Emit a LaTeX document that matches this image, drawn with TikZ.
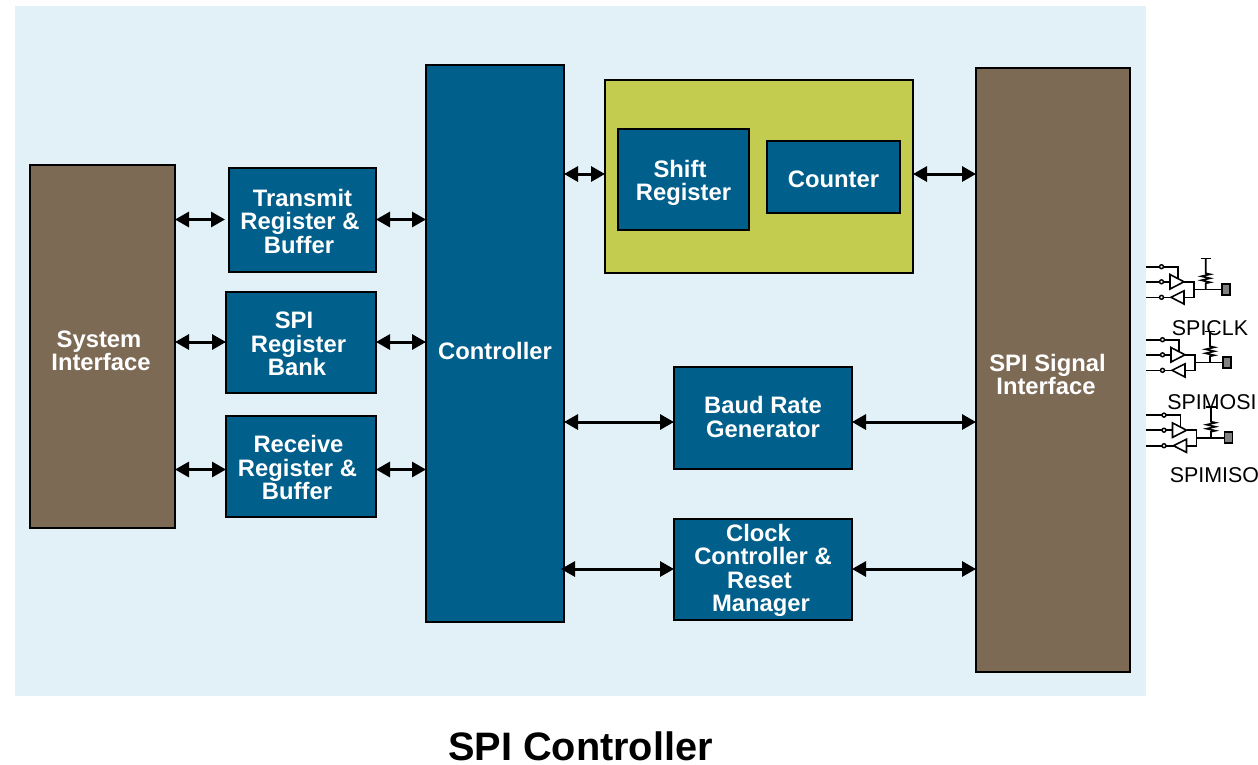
\documentclass[tikz,border=0pt]{standalone}
\usepackage{fontspec}
\setmainfont{Liberation Sans}
\usetikzlibrary{arrows.meta,positioning}
\definecolor{panelbg}{HTML}{E2F1F7}
\definecolor{blockblue}{HTML}{005F8B}
\definecolor{blockbrown}{HTML}{7D6A55}
\definecolor{blockolive}{HTML}{C4CC4F}
\newcommand{\dropby}[1]{\rule{0pt}{\dimexpr 17.5pt+2\dimexpr #1\relax\relax}}
\newcommand{\pushby}[1]{\hspace*{#1}\mbox{}}
\begin{document}
\begin{tikzpicture}[x=1pt,y=-1pt,
block/.style = {draw, line width=2pt, fill=blockblue, text=white, inner sep=0pt, outer sep=0pt, align=center, font=\fontsize{23.8}{23.5}\selectfont\bfseries},
sidebar/.style = {block, fill=blockbrown},
link/.style = {line width=3pt, {Triangle[length=14pt,width=15pt]}-{Triangle[length=14pt,width=15pt]}},
wire/.style = {line width=1.6pt},
tap/.style = {circle, draw, line width=1.4pt, fill=panelbg, inner sep=0pt, minimum size=4pt},
pinlabel/.style = {font=\fontsize{21.4}{24}\selectfont, inner sep=0pt},
]
\useasboundingbox (0,0) rectangle (1258,764);
\fill[panelbg] (15,6) rectangle (1146,696);
\node (sysif) at (102.5,346.5)[sidebar,minimum width=145pt,minimum height=363pt] {\dropby{4pt}System\pushby{7pt}\\Interface\pushby{3pt}};
\node (txbuf) at (302.5,220)[block,minimum width=147pt,minimum height=104pt] {\dropby{1pt}Transmit\\Register \&\pushby{5pt}\\Buffer\pushby{7pt}};
\node (regbank) at (301,342.5)[block,minimum width=150pt,minimum height=101pt] {\dropby{1pt}SPI\pushby{14pt}\\Register\pushby{5pt}\\Bank\pushby{8pt}};
\node (rxbuf) at (301,466.5)[block,minimum width=150pt,minimum height=101pt] {\dropby{1pt}Receive\pushby{5pt}\\Register \&\pushby{7pt}\\Buffer\pushby{8pt}};
\node (ctrl) at (495,343.5)[block,minimum width=138pt,minimum height=557pt] {\dropby{7.5pt}Controller};
\node (olive) at (759,176.5)[block,fill=blockolive,minimum width=308pt,minimum height=193pt] {};
\node (shiftreg) at (683.5,179.5)[block,minimum width=131pt,minimum height=101pt] {\dropby{3.5pt}Shift\pushby{7pt}\\Register};
\node (counter) at (833.5,177)[block,minimum width=133pt,minimum height=72pt] {\dropby{2pt}Counter};
\node (baud) at (763,418)[block,minimum width=178pt,minimum height=102pt] {Baud Rate\\Generator\rule[-2pt]{0pt}{2pt}};
\node (clkrst) at (763,569.5)[block,minimum width=178pt,minimum height=101pt] {\dropby{1pt}Clock\pushby{9pt}\\Controller \&\\Reset\pushby{7pt}\\Manager\pushby{4pt}};
\node (sigif) at (1053,370)[sidebar,minimum width=154pt,minimum height=604pt] {\dropby{4.5pt}SPI Signal\pushby{11pt}\\Interface\pushby{14pt}};
\coordinate (shiftlink) at (605,174);
\coordinate (countlink) at (913,174);
\coordinate (txlink) at (229,219.5);
\coordinate (regbanklink) at (226,342);
\coordinate (rxlink) at (226,469.5);
\coordinate (baudlink) at (674,422);
\coordinate (clklink) at (674,569);
\draw[link,shorten >=4pt] (txlink -| sysif.east) -- (txlink);
\draw[link] (regbanklink -| sysif.east) -- (regbanklink);
\draw[link] (rxlink -| sysif.east) -- (rxlink);
\draw[link] (txlink -| txbuf.east) -- (txlink -| ctrl.west);
\draw[link] (regbanklink -| regbank.east) -- (regbanklink -| ctrl.west);
\draw[link] (rxlink -| rxbuf.east) -- (rxlink -| ctrl.west);
\draw[link] (shiftlink -| ctrl.east) -- (shiftlink);
\draw[link] (countlink) -- (countlink -| sigif.west);
\draw[link] (baudlink -| ctrl.east) -- (baudlink);
\draw[link] (baudlink -| baud.east) -- (baudlink -| sigif.west);
\draw[link,shorten <=-3pt] (clklink -| ctrl.east) -- (clklink);
\draw[link] (clklink -| clkrst.east) -- (clklink -| sigif.west);
\foreach \ox/\oy/\lx/\rx in {1146/289.3/0/59.7,1147/362.3/-1/63,1148.5/437.7/-2.5/62.5} {
\begin{scope}[shift={(\ox,\oy)}]
\draw[wire] (\lx,-22.6) -- (32,-22.6) -- (32,-10.5);
\draw[wire] (\lx,-7.5) -- (24,-7.5);
\draw[wire] (\lx,8) -- (25,8);
\draw[wire] (24,-14.8) -- (24,-0.3) -- (38,-7.5) -- cycle;
\draw[wire] (25,8) -- (38,1.5) -- (38,14.7) -- cycle;
\draw[wire] (38,-7.5) -- (48,-7.5) -- (48,8) -- (38,8);
\draw[wire] (48,0) -- (76,0);
\draw[wire] (\rx,0) -- (\rx,-6) -- ++(4.5,-1) -- ++(-9,-2) -- ++(9,-2) -- ++(-9,-2) -- ++(9,-2) -- (\rx,-16) -- (\rx,-31);
\draw[wire] (\rx-5,-31) -- (\rx+5,-31);
\draw[wire,fill=gray] (76,-5.5) rectangle (84,5.5);
\node (tapa\ox) at (15.5,-22.6)[tap] {};
\node (tapb\ox) at (15.5,-7.5)[tap] {};
\node (tapc\ox) at (15.5,8)[tap] {};
\end{scope}
}
\node (clkpin) at (1210,328)[pinlabel] {SPICLK};
\node (mosipin) at (1212,402)[pinlabel] {SPIMOSI};
\node (misopin) at (1214.5,475)[pinlabel] {SPIMISO};
\node (title) at (580.5,746.5)[font=\fontsize{39.7}{44}\selectfont\bfseries,inner sep=0pt] {SPI Controller};
\end{tikzpicture}
\end{document}
